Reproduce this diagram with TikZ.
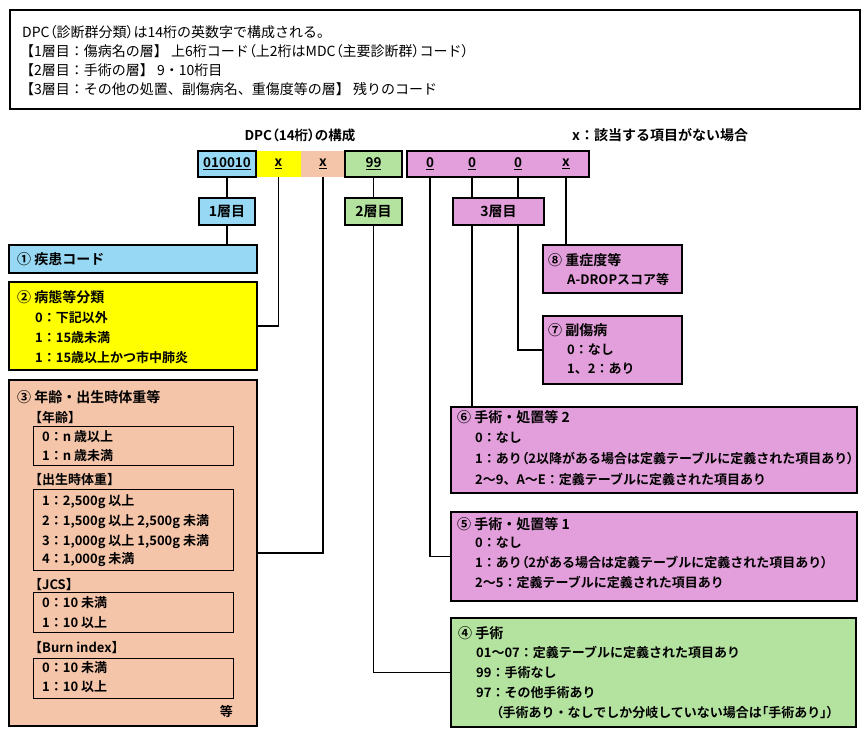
\documentclass[tikz,border=0pt]{standalone}
\usepackage{fontspec}
\setmainfont{Noto Sans CJK JP}[BoldFont={* Bold}]
\newcommand{\pa}[1]{{\addfontfeature{RawFeature=+palt}#1}}
\definecolor{cblue}{HTML}{97D9F4}
\definecolor{cyellow}{HTML}{FFFF00}
\definecolor{csalmon}{HTML}{F5C5A9}
\definecolor{cgreen}{HTML}{B4E3A0}
\definecolor{cpink}{HTML}{E39FDB}
\tikzset{
  bx/.style={draw=black, line width=2pt, anchor=north west, inner sep=0pt, outer sep=0pt},
  ibx/.style={draw=black, line width=1pt, anchor=north west, inner sep=0pt, outer sep=0pt},
  codetxt/.style={font=\bfseries\fontsize{13.5}{15}\selectfont},
  ttl/.style={anchor=west, inner sep=0pt, font=\bfseries\fontsize{14}{16}\selectfont, text height=12.3pt, text depth=1.7pt},
  itm/.style={anchor=west, inner sep=0pt, font=\bfseries\fontsize{13}{15}\selectfont, text height=11.4pt, text depth=1.6pt},
  toptxt/.style={anchor=west, inner sep=0pt, font=\fontsize{14}{16}\selectfont, text height=12.3pt, text depth=1.7pt},
  conn/.style={line width=1.5pt},
}
\begin{document}
\begin{tikzpicture}[x=1pt,y=-1pt]
\useasboundingbox (0,0) rectangle (868,737);

% top explanation box
\node[bx, minimum width=850pt, minimum height=99pt] (topbox) at (10,10) {};
\node[toptxt] (t1) at (22,32) {DPC\pa{（}診断群分類\pa{）}は14桁の英数字で構成される。};
\node[toptxt] (t2) at (20,51) {【1層目：傷病名の層】 上6桁コード\pa{（}上2桁はMDC\pa{（}主要診断群\pa{）}コード\pa{）}};
\node[toptxt] (t3) at (20,70) {【2層目：手術の層】 9・10桁目};
\node[toptxt] (t4) at (20,89) {【3層目：その他の処置、副傷病名、重傷度等の層】 残りのコード};

% headers
\node[codetxt, inner sep=0pt] (h1) at (300,135) {DPC\pa{（}14桁\pa{）}の構成};
\node[ttl] (h2) at (572,135) {x：該当する項目がない場合};

% code row
\node[bx, draw=none, fill=cyellow, minimum width=45pt, minimum height=26pt, codetxt] (c2) at (256,151) {\underline{x}};
\node[bx, draw=none, fill=csalmon, minimum width=44pt, minimum height=26pt, codetxt] (c3) at (301,151) {\underline{x}};
\node[bx, fill=cblue, minimum width=58pt, minimum height=26pt, codetxt] (c1) at (198,151) {\underline{010010}};
\node[bx, fill=cgreen, minimum width=57pt, minimum height=26pt, codetxt] (c4) at (345,151) {\underline{99}};
\node[bx, fill=cpink, minimum width=182pt, minimum height=26pt] (c5) at (407,151) {};
\node[codetxt, inner sep=0pt] (d1) at (430,164) {\underline{0}};
\node[codetxt, inner sep=0pt] (d2) at (472,164) {\underline{0}};
\node[codetxt, inner sep=0pt] (d3) at (518,164) {\underline{0}};
\node[codetxt, inner sep=0pt] (d4) at (566,164) {\underline{x}};

% layer boxes
\node[bx, fill=cblue, minimum width=56pt, minimum height=27pt, font=\bfseries\fontsize{14}{16}\selectfont] (l1) at (199,198) {1層目};
\node[bx, fill=cgreen, minimum width=57pt, minimum height=27pt, font=\bfseries\fontsize{14}{16}\selectfont] (l2) at (345,198) {2層目};
\node[bx, fill=cpink, minimum width=91pt, minimum height=27pt, font=\bfseries\fontsize{14}{16}\selectfont] (l3) at (453,198) {3層目};

% left boxes
\node[bx, fill=cblue, minimum width=248pt, minimum height=28pt] (b1) at (9,245) {};
\node[ttl] (b1t) at (17,259) {① 疾患コード};

\node[bx, fill=cyellow, minimum width=248pt, minimum height=88pt] (b2) at (9,282) {};
\node[ttl] (b2t) at (17,297) {② 病態等分類};
\node[itm] (b2a) at (35,318) {0：下記以外};
\node[itm] (b2b) at (35,338) {1：15歳未満};
\node[itm] (b2c) at (35,358) {1：15歳以上かつ市中肺炎};

\node[bx, fill=csalmon, minimum width=248pt, minimum height=346pt] (b3) at (9,380) {};
\node[ttl] (b3t) at (17,397) {③ 年齢・出生時体重等};
\node[itm] (s1) at (29,418) {【年齢】};
\node[ibx, minimum width=200pt, minimum height=39pt] (i1) at (33,426) {};
\node[itm] (i1a) at (42,437) {0：n 歳以上};
\node[itm] (i1b) at (42,456) {1：n 歳未満};
\node[itm] (s2) at (29,480) {【出生時体重】};
\node[ibx, minimum width=200pt, minimum height=81pt] (i2) at (33,489) {};
\node[itm] (i2a) at (42,501) {1：2,500g 以上};
\node[itm] (i2b) at (42,521) {2：1,500g 以上 2,500g 未満};
\node[itm] (i2c) at (42,541) {3：1,000g 以上 1,500g 未満};
\node[itm] (i2d) at (42,559) {4：1,000g 未満};
\node[itm] (s3) at (29,585) {【JCS】};
\node[ibx, minimum width=200pt, minimum height=40pt] (i3) at (33,592) {};
\node[itm] (i3a) at (42,603) {0：10 未満};
\node[itm] (i3b) at (42,623) {1：10 以上};
\node[itm] (s4) at (29,648) {【Burn index】};
\node[ibx, minimum width=200pt, minimum height=40pt] (i4) at (33,658) {};
\node[itm] (i4a) at (42,668) {0：10 未満};
\node[itm] (i4b) at (42,687) {1：10 以上};
\node[itm, anchor=east] (etc) at (233,712) {等};

% right boxes
\node[bx, fill=cpink, minimum width=139pt, minimum height=48pt] (b8) at (543,245) {};
\node[ttl] (b8t) at (548,260) {⑧ 重症度等};
\node[itm] (b8a) at (567,280) {A-DROPスコア等};

\node[bx, fill=cpink, minimum width=139pt, minimum height=68pt] (b7) at (543,316) {};
\node[ttl] (b7t) at (548,330) {⑦ 副傷病};
\node[itm] (b7a) at (567,350) {0：なし};
\node[itm] (b7b) at (567,369) {1、2：あり};

\node[bx, fill=cpink, minimum width=406pt, minimum height=86pt] (b6) at (451,407) {};
\node[ttl] (b6t) at (457,417) {⑥ 手術・処置等 2};
\node[itm] (b6a) at (475,438) {0：なし};
\node[itm] (b6b) at (475,459) {1：あり\pa{（}2以降がある場合は定義テーブルに定義された項目あり\pa{）}};
\node[itm] (b6c) at (475,480) {2〜9、A〜E：定義テーブルに定義された項目あり};

\node[bx, fill=cpink, minimum width=406pt, minimum height=89pt] (b5) at (451,512) {};
\node[ttl] (b5t) at (457,524) {⑤ 手術・処置等 1};
\node[itm] (b5a) at (475,543) {0：なし};
\node[itm] (b5b) at (475,563) {1：あり\pa{（}2がある場合は定義テーブルに定義された項目あり\pa{）}};
\node[itm] (b5c) at (475,583) {2〜5：定義テーブルに定義された項目あり};

\node[bx, fill=cgreen, minimum width=405pt, minimum height=109pt] (b4) at (451,618) {};
\node[ttl] (b4t) at (458,633) {④ 手術};
\node[itm] (b4a) at (476,653) {01〜07：定義テーブルに定義された項目あり};
\node[itm] (b4b) at (476,673) {99：手術なし};
\node[itm] (b4c) at (476,693) {97：その他手術あり};
\node[itm] (b4d) at (496,713) {\pa{（}手術あり・なしでしか分岐していない場合は\pa{「}手術あり\pa{」）}};

% connectors
\draw[conn] (c1.south) -- (l1.north);
\draw[conn] (l1.south) -- (l1.south |- b1.north);
\draw[conn] (c2.south) |- (b2.east);
\draw[conn] (c3.south) |- (b3.east);
\draw[conn] (c4.south) -- (l2.north);
\draw[conn] (l2.south) |- (b4.west);
\draw[conn] (d1 |- c5.south) |- (b5.west);
\draw[conn] (d2 |- c5.south) -- (d2 |- l3.north);
\draw[conn] (d2 |- l3.south) -- (d2 |- b6.north);
\draw[conn] (d3 |- c5.south) -- (d3 |- l3.north);
\draw[conn] (d3 |- l3.south) |- (b7.west);
\draw[conn] (d4 |- c5.south) -- (d4 |- b8.north);
\end{tikzpicture}
\end{document}
